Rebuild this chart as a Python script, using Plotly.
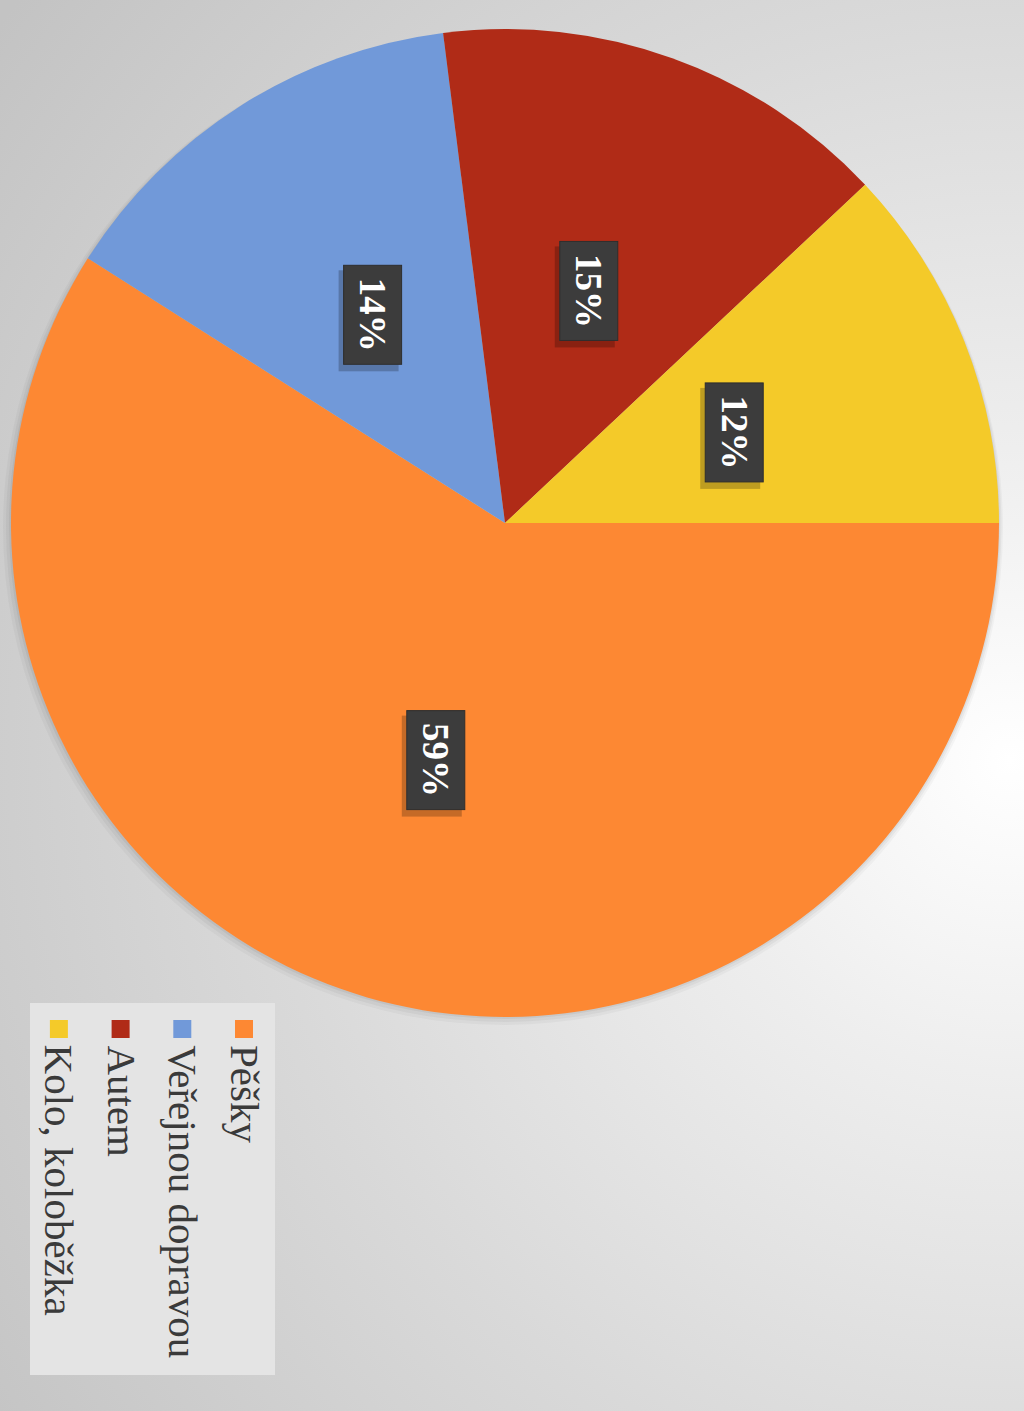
import base64
import math
import plotly.graph_objects as go

labels = ["Pěšky", "Veřejnou dopravou", "Autem", "Kolo, koloběžka"]
shares = [59, 14, 15, 12]
colors = ["#FD8833", "#7199D9", "#B02B17", "#F4CA29"]

W, H = 1024, 1411
# pie centre and radius in pixels (the whole chart is turned by 90 degrees)
cx, cy, R = 505, 523, 494
start = 90


def px(x):
    return x / W


def py(y):
    return 1 - y / H


# soft grey background
svg = (
    f'<svg xmlns="http://www.w3.org/2000/svg" width="{W}" height="{H}" preserveAspectRatio="none">'
    '<defs><radialGradient id="g" gradientUnits="userSpaceOnUse" cx="1010" cy="760" r="1250">'
    '<stop offset="0" stop-color="#ffffff"/>'
    '<stop offset="0.25" stop-color="#eeeeee"/>'
    '<stop offset="0.6" stop-color="#d9d9d9"/>'
    '<stop offset="1" stop-color="#c3c3c3"/>'
    '</radialGradient></defs>'
    '<rect width="100%" height="100%" fill="url(#g)"/></svg>'
)
bg = "data:image/svg+xml;base64," + base64.b64encode(svg.encode()).decode()

fig = go.Figure()
fig.add_trace(go.Pie(
    labels=labels,
    values=shares,
    sort=False,
    direction="clockwise",
    rotation=start,
    marker=dict(colors=colors, line=dict(width=0)),
    textinfo="none",
    hoverinfo="label+percent",
    domain=dict(x=[px(cx - R), px(cx + R)], y=[py(cy + R), py(cy - R)]),
))

shapes = []
annotations = []

# faint shadow behind the pie
for grow, alpha in [(8, 0.03), (5, 0.04), (2, 0.05)]:
    shapes.append(dict(type="circle", xref="paper", yref="paper", layer="below",
                       x0=px(cx - R - grow), x1=px(cx + R + grow / 2),
                       y0=py(cy + R + grow), y1=py(cy - R + 2),
                       fillcolor=f"rgba(0,0,0,{alpha})", line=dict(width=0)))

# percentage boxes, placed half way out along the middle of each slice
total = sum(shares)
cum = 0
for v in shares:
    a = math.radians(start + (cum + v / 2) / total * 360)
    cum += v
    r = 0.5 * R
    x = cx + r * math.sin(a)
    y = cy - r * math.cos(a)
    pct = round(v / total * 100)
    annotations.append(dict(
        x=px(x - 4), y=py(y + 6), xref="paper", yref="paper", showarrow=False,
        xanchor="center", yanchor="middle",
        text=" ", textangle=90, width=98, height=57, bgcolor="rgba(0,0,0,0.22)",
    ))
    annotations.append(dict(
        x=px(x), y=py(y), xref="paper", yref="paper", showarrow=False,
        xanchor="center", yanchor="middle",
        text=f"<b>{pct}%</b>", textangle=90, width=96, height=55,
        bgcolor="#3c3c3c", bordercolor="#2e2e2e", borderwidth=1,
        font=dict(family="Liberation Serif", size=37, color="#ffffff"),
    ))

# hand-made legend, turned like the rest of the chart
shapes.append(dict(type="rect", xref="paper", yref="paper", layer="below",
                   x0=px(30), x1=px(275), y0=py(1375), y1=py(1003),
                   fillcolor="#e4e4e4", line=dict(width=0)))
for i, (lab, col) in enumerate(zip(labels, colors)):
    lx = 244 - i * 61.7
    shapes.append(dict(type="rect", xref="paper", yref="paper",
                       x0=px(lx - 9), x1=px(lx + 9), y0=py(1038), y1=py(1020),
                       fillcolor=col, line=dict(width=0)))
    annotations.append(dict(
        x=px(lx + 1), y=py(1043), xref="paper", yref="paper", showarrow=False,
        xanchor="center", yanchor="top", text=lab, textangle=90,
        font=dict(family="Liberation Serif", size=41, color="#3a3a3a"),
    ))

fig.update_layout(
    width=W, height=H,
    margin=dict(l=0, r=0, t=0, b=0),
    paper_bgcolor="#d9d9d9",
    showlegend=False,
    shapes=shapes,
    annotations=annotations,
    images=[dict(source=bg, xref="paper", yref="paper", x=0, y=1, sizex=1, sizey=1,
                 sizing="stretch", layer="below", xanchor="left", yanchor="top")],
)

fig.write_html("out.html", config={"displayModeBar": False},
               post_script="document.body.style.margin = '0px';")
